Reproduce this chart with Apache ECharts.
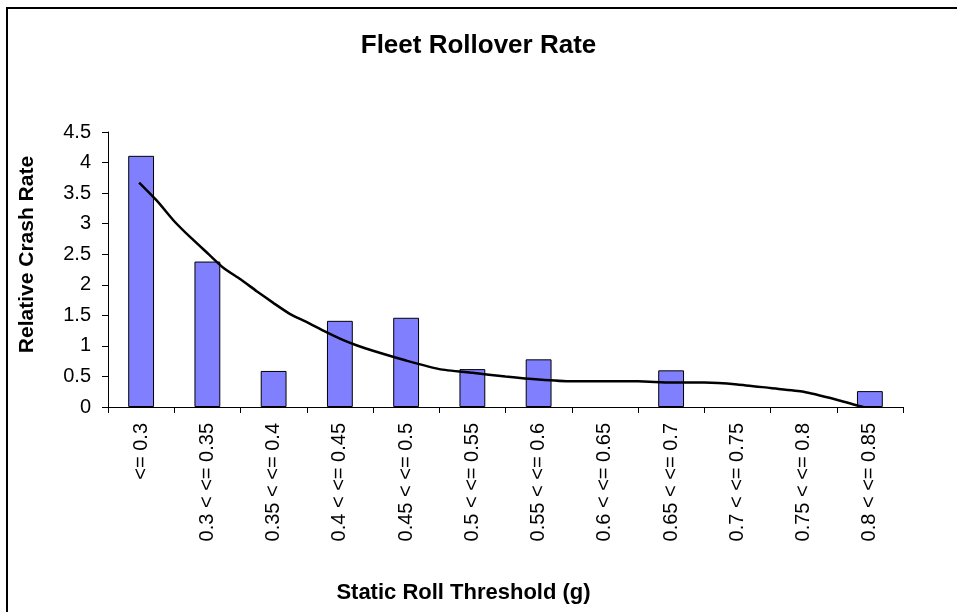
<!DOCTYPE html>
<html>
<head>
<meta charset="utf-8">
<script src="https://cdn.jsdelivr.net/npm/echarts@6/dist/echarts.min.js"></script>
<style>
html,body{margin:0;padding:0;background:#fff;}
#chart{width:957px;height:612px;}
</style>
</head>
<body>
<div id="chart"></div>
<script>
var categories = ['<= 0.3', '0.3 < <= 0.35', '0.35 < <= 0.4', '0.4 < <= 0.45', '0.45 < <= 0.5', '0.5 < <= 0.55', '0.55 < <= 0.6', '0.6 < <= 0.65', '0.65 < <= 0.7', '0.7 < <= 0.75', '0.75 < <= 0.8', '0.8 < <= 0.85'];
var rates = [4.11, 2.38, 0.59, 1.41, 1.46, 0.62, 0.78, 0, 0.60, 0, 0, 0.26];
// trend line: position in category units (0 = left edge) and value
var trendPos = [0.47, 0.75, 1.0, 1.25, 1.5, 1.75, 2.0, 2.25, 2.5, 2.75, 3.0, 3.25, 3.5, 3.75, 4.0, 4.5, 5.0, 5.5, 6.0, 6.5, 7.0, 7.5, 8.0, 8.5, 9.0, 9.5, 10.0, 10.5, 11.0, 11.4];
var trendVal = [3.67, 3.36, 3.04, 2.77, 2.52, 2.27, 2.09, 1.89, 1.70, 1.52, 1.39, 1.25, 1.12, 1.01, 0.92, 0.76, 0.62, 0.56, 0.50, 0.45, 0.42, 0.42, 0.42, 0.40, 0.40, 0.37, 0.31, 0.25, 0.12, 0.0];
var yTicks = {min: 0, max: 4.5, interval: 0.5};

var font = 'Liberation Sans, Arial, sans-serif';
var trendData = trendPos.map(function (p, i) { return [p, trendVal[i]]; });
// zero-height bars are not drawn in the original
var barData = rates.map(function (v) { return v === 0 ? '-' : v; });

var chart = echarts.init(document.getElementById('chart'), null, {renderer: 'canvas'});
chart.setOption({
  animation: false,
  backgroundColor: '#ffffff',
  title: {
    text: 'Fleet Rollover Rate',
    left: 'center',
    top: 33,
    padding: [0, 0, 0, 18],
    textStyle: {fontFamily: font, fontWeight: 'bold', fontSize: 26, color: '#000'}
  },
  graphic: [{
    type: 'rect',
    shape: {x: 7, y: 8, width: 1000, height: 1000},
    style: {fill: 'none', stroke: '#000', lineWidth: 2},
    silent: true
  }],
  grid: {left: 108, right: 54, top: 132, bottom: 205},
  xAxis: [{
    type: 'category',
    data: categories,
    boundaryGap: true,
    axisLine: {lineStyle: {color: '#000', width: 1}},
    axisTick: {show: true, length: 6, lineStyle: {color: '#000'}},
    axisLabel: {rotate: 90, interval: 0, margin: 16, fontFamily: font, fontSize: 20, color: '#000'},
    name: 'Static Roll Threshold (g)',
    nameLocation: 'middle',
    nameGap: 175,
    nameTextStyle: {fontFamily: font, fontWeight: 'bold', fontSize: 22, color: '#000', padding: [0, 84, 0, 0]}
  }, {
    type: 'value',
    min: 0,
    max: 12,
    show: false
  }],
  yAxis: [{
    type: 'value',
    min: yTicks.min,
    max: yTicks.max,
    interval: yTicks.interval,
    splitLine: {show: false},
    axisLine: {show: true, lineStyle: {color: '#000', width: 1}},
    axisTick: {show: true, length: 6, lineStyle: {color: '#000'}},
    axisLabel: {margin: 17, fontFamily: font, fontSize: 20, color: '#000'},
    name: 'Relative Crash Rate',
    nameLocation: 'middle',
    nameRotate: 90,
    nameGap: 70,
    nameTextStyle: {fontFamily: font, fontWeight: 'bold', fontSize: 21, color: '#000', padding: [0, 0, 0, 30]}
  }],
  series: [{
    type: 'bar',
    data: barData,
    xAxisIndex: 0,
    yAxisIndex: 0,
    barWidth: '39%',
    itemStyle: {color: '#8080ff', borderColor: '#000', borderWidth: 1}
  }, {
    type: 'line',
    data: trendData,
    xAxisIndex: 1,
    yAxisIndex: 0,
    smooth: 0.2,
    symbol: 'none',
    lineStyle: {color: '#000', width: 2.5}
  }]
});
</script>
</body>
</html>
